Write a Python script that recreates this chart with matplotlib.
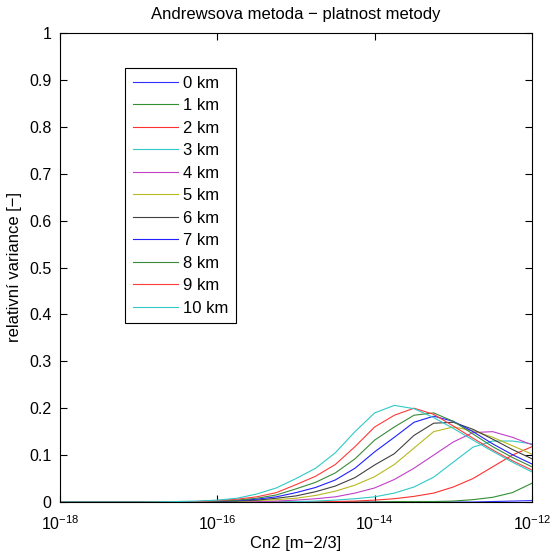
import numpy as np
import matplotlib
matplotlib.use("Agg")
import matplotlib.pyplot as plt
from matplotlib.ticker import FixedLocator, NullLocator, FuncFormatter

plt.rcParams['font.family'] = ['Liberation Sans', 'DejaVu Sans']
plt.rcParams['mathtext.fontset'] = 'custom'
plt.rcParams['mathtext.rm'] = 'Liberation Sans'

# log10 of Cn2 sample points
log_cn2 = [-18, -17, -16.5, -16.25, -16, -15.75, -15.5, -15.25, -15, -14.75,
           -14.5, -14.25, -14, -13.75, -13.5, -13.25, -13, -12.75, -12.5, -12.25, -12]

labels = ["0 km", "1 km", "2 km", "3 km", "4 km", "5 km", "6 km", "7 km", "8 km", "9 km", "10 km"]

v0 = [0, 0, 0, 0, 0, 0, 0, 0, 0, 0, 0, 0, 0, 0, 0, 0, 0, 0, 0.001, 0.002, 0.003]
v1 = [0, 0, 0, 0, 0, 0, 0, 0, 0, 0, 0, 0, 0, 0.001, 0.001, 0.001, 0.002, 0.005, 0.010, 0.020, 0.040]
v2 = [0, 0, 0, 0, 0, 0, 0, 0, 0, 0, 0.001, 0.002, 0.004, 0.007, 0.012, 0.019, 0.032, 0.050, 0.075, 0.100, 0.118]
v3 = [0, 0, 0, 0, 0, 0, 0, 0, 0.001, 0.002, 0.004, 0.007, 0.011, 0.019, 0.032, 0.053, 0.085, 0.117, 0.130, 0.130, 0.124]
v4 = [0, 0, 0, 0, 0, 0, 0.001, 0.002, 0.004, 0.007, 0.011, 0.019, 0.030, 0.048, 0.072, 0.100, 0.128, 0.148, 0.150, 0.138, 0.122]
v5 = [0, 0, 0, 0, 0.001, 0.001, 0.003, 0.005, 0.008, 0.014, 0.023, 0.036, 0.054, 0.080, 0.115, 0.150, 0.160, 0.152, 0.138, 0.120, 0.102]
v6 = [0, 0, 0, 0, 0.001, 0.002, 0.004, 0.008, 0.013, 0.022, 0.034, 0.052, 0.079, 0.103, 0.142, 0.168, 0.170, 0.155, 0.134, 0.112, 0.092]
v7 = [0, 0, 0, 0.001, 0.002, 0.003, 0.006, 0.011, 0.020, 0.031, 0.047, 0.072, 0.107, 0.138, 0.170, 0.183, 0.172, 0.150, 0.124, 0.101, 0.081]
v8 = [0, 0, 0.001, 0.001, 0.002, 0.004, 0.008, 0.015, 0.028, 0.042, 0.062, 0.092, 0.132, 0.160, 0.185, 0.190, 0.172, 0.145, 0.118, 0.095, 0.075]
v9 = [0, 0, 0.001, 0.001, 0.003, 0.006, 0.011, 0.020, 0.037, 0.055, 0.080, 0.118, 0.160, 0.185, 0.200, 0.187, 0.162, 0.136, 0.111, 0.088, 0.068]
v10 = [0, 0, 0.001, 0.002, 0.004, 0.008, 0.017, 0.030, 0.050, 0.072, 0.105, 0.150, 0.190, 0.206, 0.199, 0.180, 0.157, 0.132, 0.108, 0.085, 0.064]

series = [v0, v1, v2, v3, v4, v5, v6, v7, v8, v9, v10]
colors = ['#3030ff', '#309030', '#ff3030', '#30c8c8', '#c040c8', '#b8b820', '#404040',
          '#2020ff', '#3a8a3a', '#ff3a3a', '#30c8c8']

x_ticks = [1e-18, 1e-16, 1e-14, 1e-12]
y_ticks = [0, 0.1, 0.2, 0.3, 0.4, 0.5, 0.6, 0.7, 0.8, 0.9, 1.0]

fig = plt.figure(figsize=(5.53, 5.54), dpi=100)
ax = fig.add_axes([60/553, 52/554, 472/553, 469/554])

x = 10.0 ** np.array(log_cn2)
for vals, col, lab in zip(series, colors, labels):
    ax.plot(x, vals, color=col, lw=0.8, label=lab)

ax.set_xscale('log')
ax.set_xlim(1e-18, 1e-12)
ax.set_ylim(0, 1)
ax.xaxis.set_major_locator(FixedLocator(x_ticks))
ax.xaxis.set_minor_locator(NullLocator())
ax.yaxis.set_major_locator(FixedLocator(y_ticks))
ax.yaxis.set_major_formatter(FuncFormatter(lambda v, p: ('%g' % v)))
ax.tick_params(direction='in', top=True, right=True, labelsize=11.5, length=5, width=0.8)
ax.tick_params(axis='x', pad=9)
ax.tick_params(axis='y', pad=6)
for s in ax.spines.values():
    s.set_linewidth(0.8)

ax.set_title('Andrewsova metoda − platnost metody', fontsize=12, pad=10)
ax.set_xlabel('Cn2 [m−2/3]', fontsize=12, labelpad=2)
ax.set_ylabel('relativní variance [−]', fontsize=12, labelpad=5)

leg = ax.legend(loc='upper left', bbox_to_anchor=(0.138, 0.925), borderaxespad=0,
                fancybox=False, edgecolor='black', fontsize=12, handlelength=2.7,
                handletextpad=0.35, labelspacing=0.45, borderpad=0.45, framealpha=1)
leg.get_frame().set_linewidth(0.8)

fig.savefig('out.png', dpi=100)
